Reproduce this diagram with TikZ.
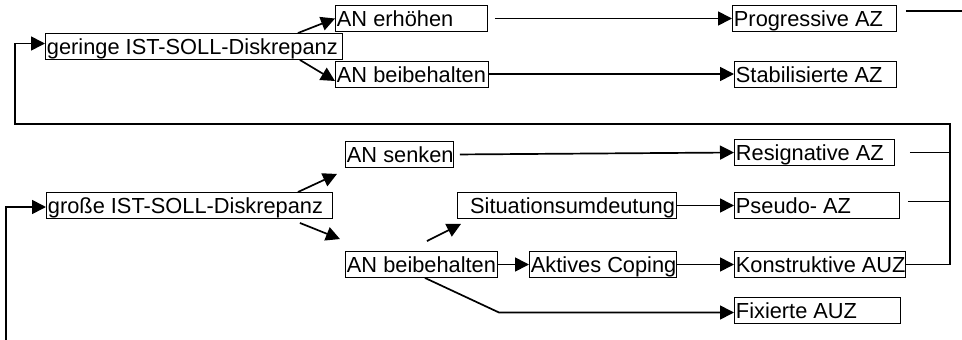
\documentclass[tikz,border=0pt]{standalone}
\usepackage{fontspec}
\setmainfont{Liberation Sans}
\usetikzlibrary{arrows.meta}
\newcommand{\lbox}[2]{\makebox[#1][l]{#2}}
\newcommand{\rbox}[2]{\makebox[#1][r]{#2}}
\begin{document}
\begin{tikzpicture}[x=1pt, y=-1pt,
  box/.style={draw, line width=0.9pt, anchor=west, inner xsep=1.5pt, inner ysep=1pt,
    text height=20pt, text depth=4pt, font=\fontsize{21.8}{24}\selectfont},
  arr/.style={-{Triangle[length=14pt,width=14pt]}, line width=1.7pt},
  wire/.style={line width=1.7pt}]
  \useasboundingbox (0,0) rectangle (962,340);
  \node[box] (gering) at (45,46.5) {\lbox{294pt}{geringe IST-SOLL-Diskrepanz}};
  \node[box] (anErh) at (335,18.5) {\lbox{149pt}{AN erhöhen}};
  \node[box] (anBeiO) at (335,74) {\lbox{150pt}{AN beibehalten}};
  \node[box] (prog) at (732,18.5) {\lbox{161pt}{Progressive AZ}};
  \node[box] (stab) at (734,74) {\lbox{159pt}{Stabilisierte AZ}};
  \node[box] (senken) at (345,154.5) {\lbox{105pt}{AN senken}};
  \node[box] (gross) at (46,205.5) {\lbox{283pt}{große IST-SOLL-Diskrepanz}};
  \node[box] (situ) at (457,205.5) {\rbox{216pt}{Situationsumdeutung}};
  \node[box] (anBeiU) at (345,264.5) {\lbox{149pt}{AN beibehalten}};
  \node[box] (aktiv) at (529,264.5) {\lbox{144pt}{Aktives Coping}};
  \node[box] (resig) at (734,152.5) {\lbox{157pt}{Resignative AZ}};
  \node[box] (pseudo) at (734,205.5) {\lbox{162pt}{Pseudo- AZ}};
  \node[box] (konstr) at (734,264.5) {\lbox{168pt}{Konstruktive AUZ}};
  \node[box] (fix) at (734,310.5) {\lbox{163pt}{Fixierte AUZ}};
  \coordinate (busR) at (950,124);
  \coordinate (busL) at (15,124);
  \coordinate (inL) at (6,340);
  \coordinate (edge) at (962,11);
  \draw[arr] ([xshift=-45pt]gering.north east) -- (anErh.west);
  \draw[arr] ([xshift=-43pt]gering.south east) -- ([yshift=-7pt]anBeiO.west);
  \draw[arr, shorten <=7pt] (anErh.east) -- (prog.west);
  \draw[arr] (anBeiO.east) -- (stab.west);
  \draw[arr] ([xshift=-35pt]gross.north east) -- ([xshift=-8pt,yshift=-6pt]senken.south west);
  \draw[arr] ([xshift=-33pt,yshift=-4pt]gross.south east) -- ([xshift=-5pt,yshift=12pt]anBeiU.north west);
  \draw[arr, shorten <=6pt] (senken.east) -- (resig.west);
  \draw[arr] ([xshift=82pt,yshift=10pt]anBeiU.north west) -- ([xshift=4pt,yshift=-5pt]situ.south west);
  \draw[arr] (anBeiU.east) -- (aktiv.west);
  \draw[arr] (situ.east) -- (pseudo.west);
  \draw[arr] (aktiv.east) -- (konstr.west);
  \draw[arr] ([xshift=80pt]anBeiU.south west) -- ([xshift=-235pt,yshift=-2pt]fix.west) -- ([yshift=-2pt]fix.west);
  \draw[wire] ([xshift=9pt,yshift=7.5pt]prog.east) -- (edge);
  \draw[wire] ([xshift=15pt]resig.east) -- (resig.east -| busR);
  \draw[wire] ([xshift=8pt,yshift=4pt]pseudo.east) -- ([yshift=4pt]pseudo.east -| busR);
  \draw[arr] (konstr.east) -| (busR) -- (busL) |- ([yshift=3pt]gering.west);
  \draw[arr] (inL) |- ([yshift=-1.5pt]gross.west);
\end{tikzpicture}
\end{document}
